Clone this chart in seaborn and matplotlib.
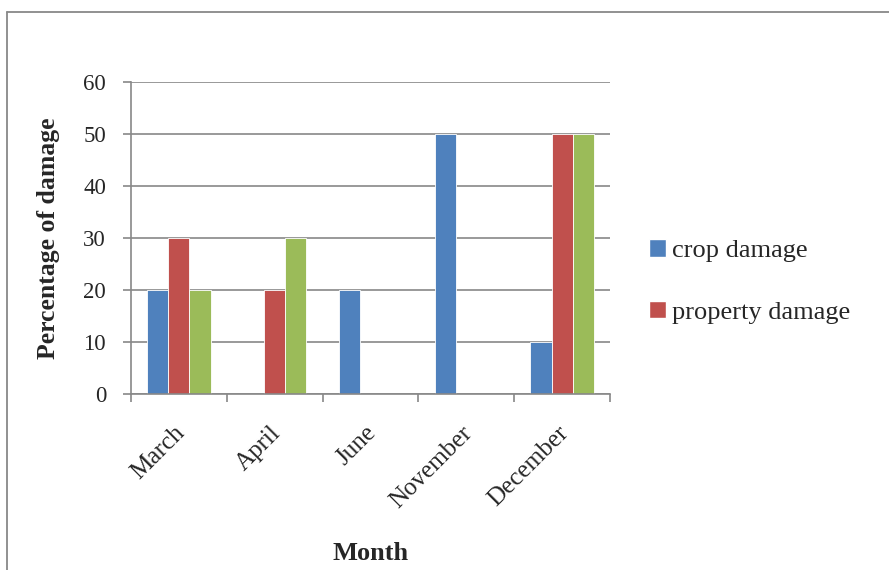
import matplotlib
matplotlib.use("Agg")
import matplotlib.pyplot as plt
import matplotlib.transforms as mtransforms
import seaborn as sns
import pandas as pd
from matplotlib.lines import Line2D
from matplotlib.patches import Patch

months = ["March", "April", "June", "November", "December"]
crop_damage = [20, 0, 20, 50, 10]
property_damage = [30, 20, 0, 0, 50]
other_damage = [20, 30, 0, 0, 50]
series_names = ["crop damage", "property damage", "other damage"]
yticks = [0, 10, 20, 30, 40, 50, 60]

colors = ["#4F81BD", "#C0504D", "#9BBB59"]

rows = []
for name, vals in zip(series_names, [crop_damage, property_damage, other_damage]):
    for m, v in zip(months, vals):
        rows.append({"Month": m, "Series": name, "Value": v})
df = pd.DataFrame(rows)

sns.set_style("white")
plt.rcParams["font.family"] = ["Liberation Serif", "DejaVu Serif"]

fig = plt.figure(figsize=(8.89, 5.70), dpi=100)
W, H = 889, 570
ax = fig.add_axes([131 / W, 1 - 394 / H, (610 - 131) / W, (394 - 82) / H])

sns.barplot(data=df, x="Month", y="Value", hue="Series", order=months,
            hue_order=series_names, palette=colors, width=0.66,
            edgecolor="white", linewidth=0.6, ax=ax, legend=False, saturation=1)

ax.set_ylim(0, 60)
ax.set_xlim(-0.5, 4.5)
ax.set_yticks(yticks)
ax.set_yticklabels([str(t) for t in yticks], fontsize=16.5)
ax.yaxis.grid(True, color="#888888", linewidth=1.2)
ax.set_axisbelow(True)
ax.tick_params(axis="y", length=6, color="#888888", width=1.2, pad=12, left=True)

ax.set_xticks(range(len(months)))
ax.set_xticklabels(months, rotation=45, ha="right", rotation_mode="anchor", fontsize=18)
ax.tick_params(axis="x", length=0, pad=20)
offset = mtransforms.ScaledTranslation(-5 / 100, 0, fig.dpi_scale_trans)
for lab in ax.get_xticklabels():
    lab.set_transform(lab.get_transform() + offset)
ax.set_xticks([i - 0.5 for i in range(len(months) + 1)], minor=True)
ax.tick_params(axis="x", which="minor", length=6, color="#888888", width=1.2, bottom=True)

for s in ["top", "right"]:
    ax.spines[s].set_visible(False)
for s in ["left", "bottom"]:
    ax.spines[s].set_color("#888888")
    ax.spines[s].set_linewidth(1.2)

ax.set_xlabel("Month", fontsize=19, fontweight="bold", labelpad=0)
ax.xaxis.set_label_coords(0.5, -(553 - 394) / (394 - 82))
ax.set_ylabel("Percentage of damage", fontsize=18.5, fontweight="bold")
ax.yaxis.set_label_coords(-(131 - 49) / (610 - 131), 0.5)
ax.xaxis.label.set_va("center")
ax.yaxis.label.set_va("center")

handles = [Patch(facecolor=colors[0], label=series_names[0]),
           Patch(facecolor=colors[1], label=series_names[1])]
fig.legend(handles=handles, loc="upper left", bbox_to_anchor=(636 / W, 1 - 226 / H),
           frameon=False, fontsize=19, handlelength=0.65, handleheight=0.65,
           handletextpad=0.2, labelspacing=1.45, borderpad=0)

# outer frame (cropped)
fig.add_artist(Line2D([6.5 / W, 6.5 / W], [0, 1 - 12 / H], transform=fig.transFigure,
                      color="#888888", linewidth=1.3))
fig.add_artist(Line2D([6.5 / W, 1], [1 - 12 / H, 1 - 12 / H], transform=fig.transFigure,
                      color="#888888", linewidth=1.3))

fig.savefig("out.png", dpi=100)
